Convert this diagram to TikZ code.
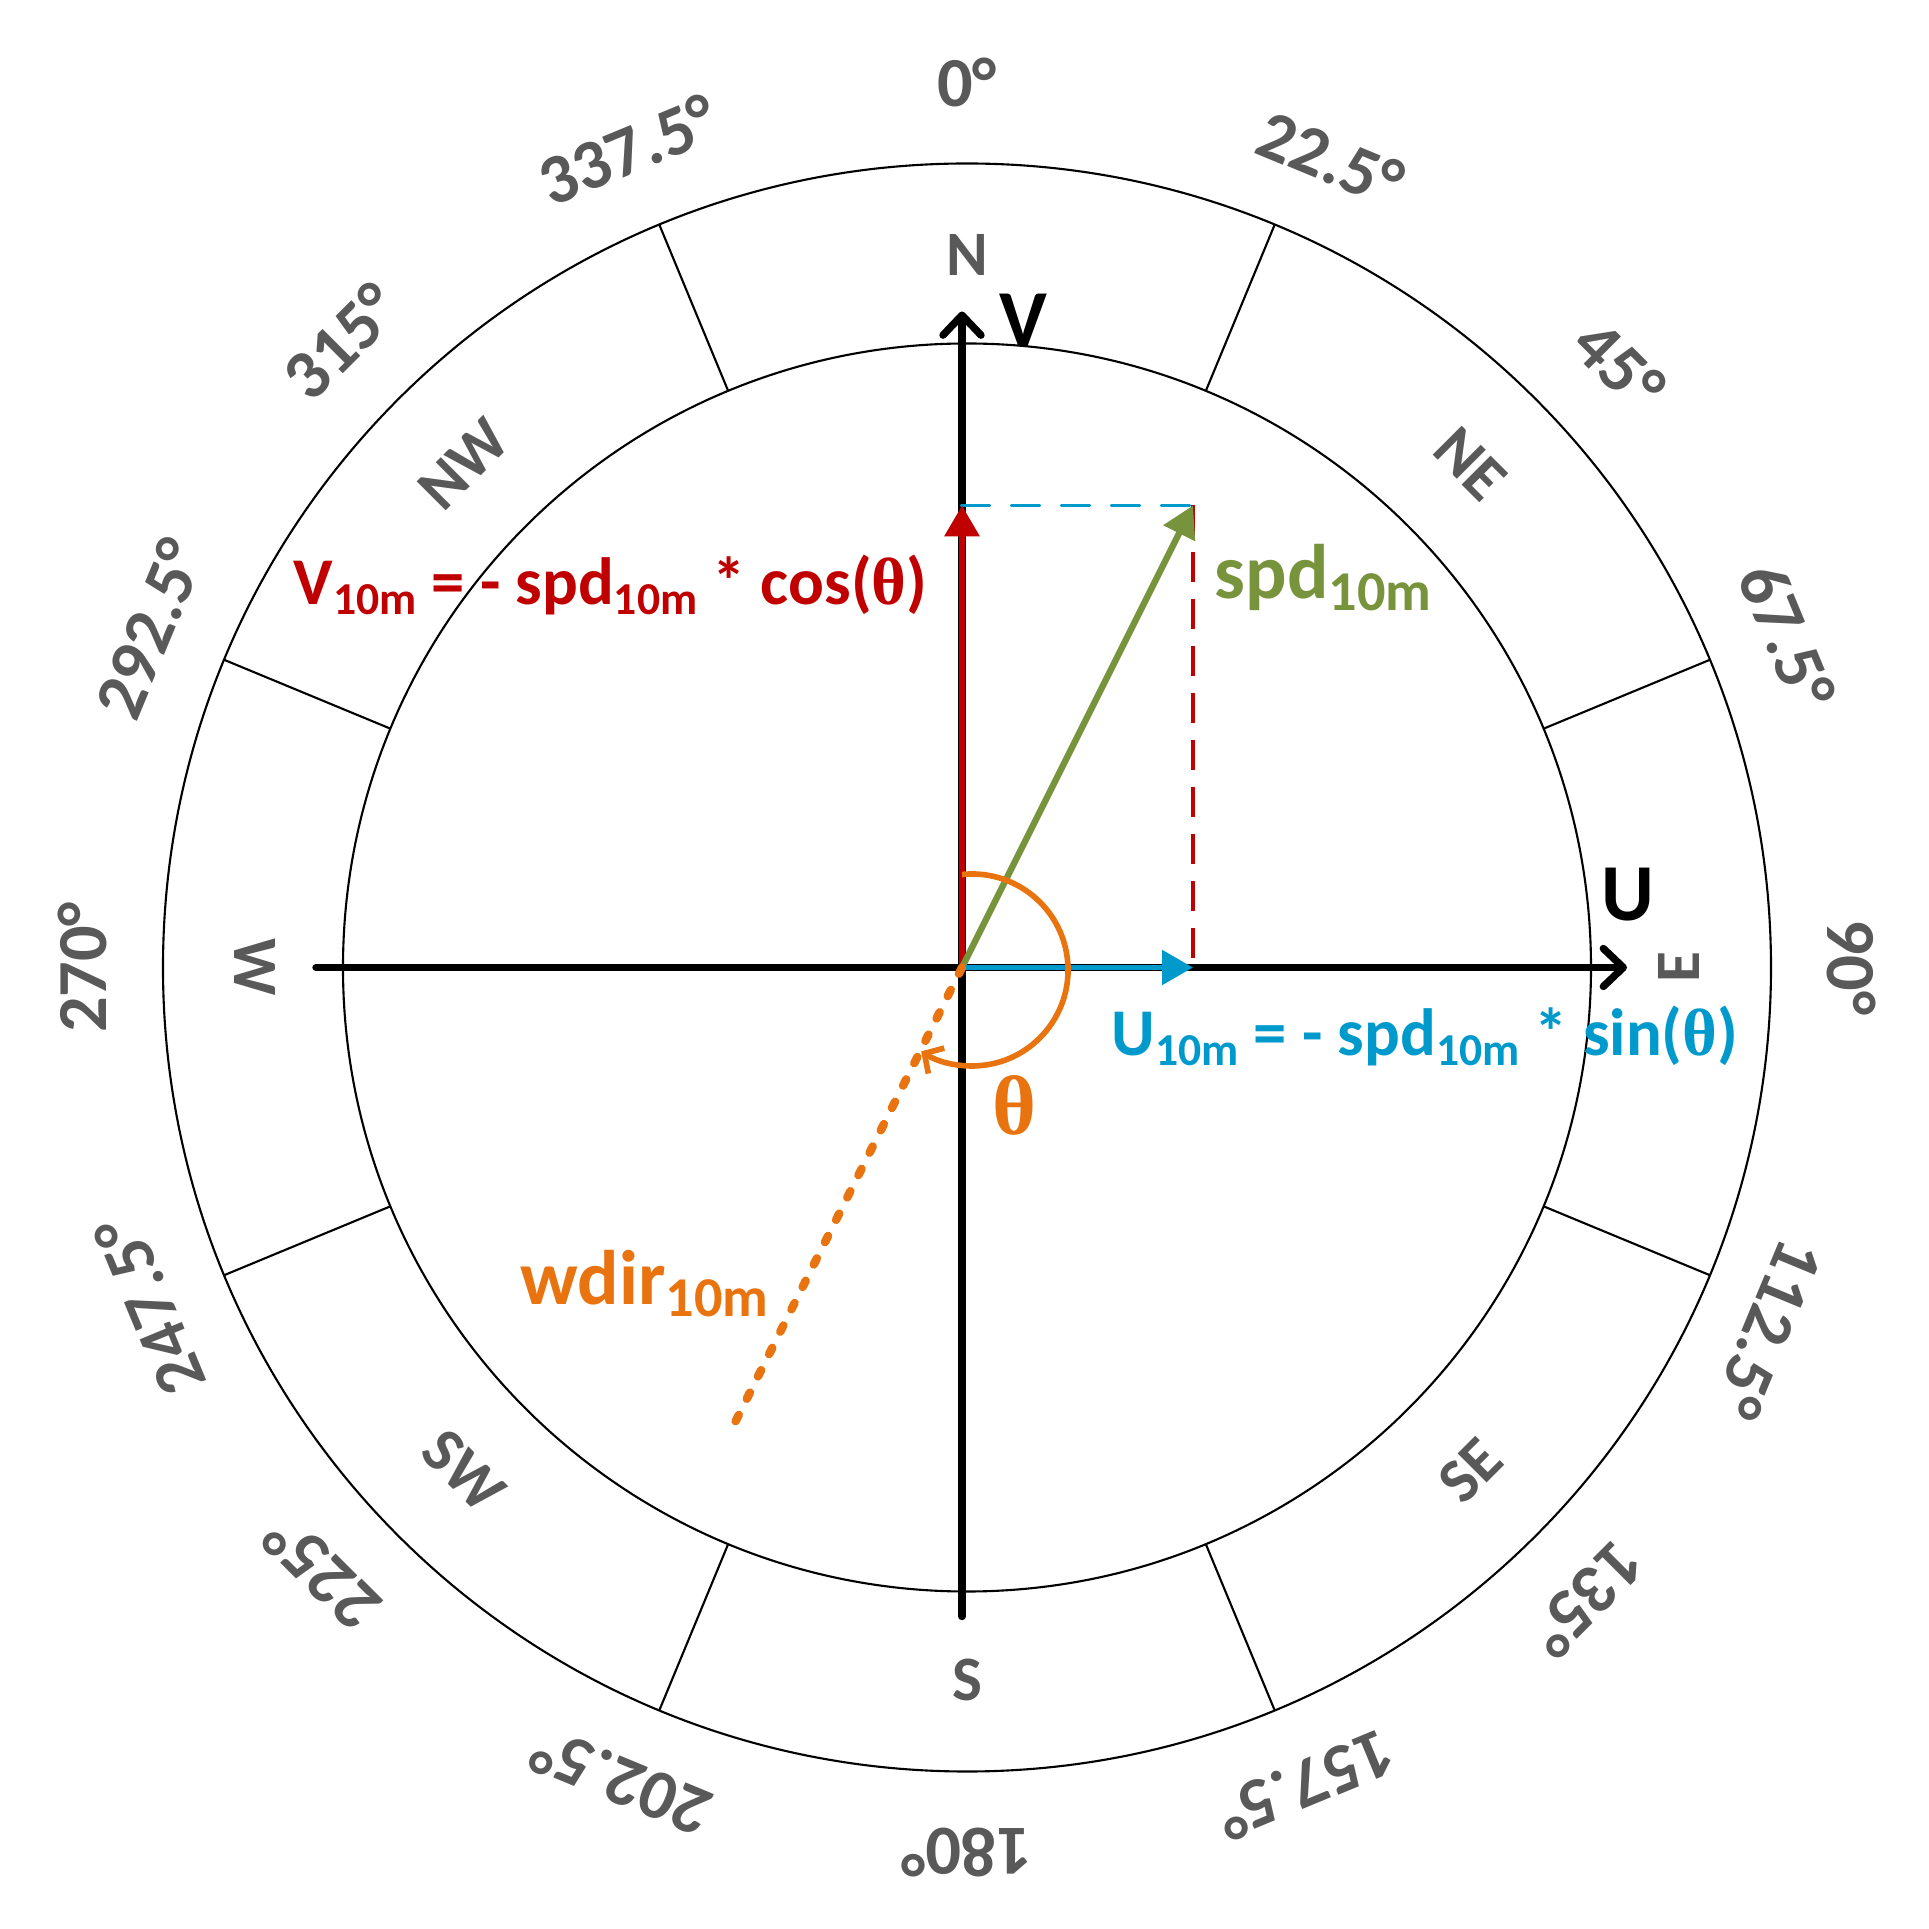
\documentclass[tikz,border=0pt]{standalone}
\usepackage{fontspec}
\setmainfont{Carlito}
\newfontfamily\serifgreek{Liberation Serif}
\usetikzlibrary{arrows.meta}
\definecolor{labgray}{HTML}{595959}
\definecolor{windred}{HTML}{C00000}
\definecolor{windblue}{HTML}{0099CC}
\definecolor{windgreen}{HTML}{77933C}
\definecolor{windorange}{HTML}{E8730F}
\newcommand{\subten}{\raisebox{-0.1cm}{\fontsize{13}{13}\selectfont 10m}}
\newcommand{\subbig}{\raisebox{-0.12cm}{\fontsize{16}{16}\selectfont 10m}}
\newcommand{\thet}{{\serifgreek θ}}

\begin{document}
\begin{tikzpicture}[every node/.style={inner sep=0pt},
  deg/.style={text=labgray, font=\fontsize{20}{24}\selectfont\bfseries},
  dir/.style={text=labgray, font=\fontsize{18}{22}\selectfont\bfseries},
  ring/.style={line width=0.6pt},
  axis/.style={line width=2.1pt, line cap=round, -{Straight Barb[length=2mm,width=3.8mm,round]}},
  comp/.style={-{Triangle[length=3.1mm,width=3.4mm]}},
  formula/.style={font=\fontsize{19}{22}\selectfont\bfseries, anchor=base west},
  varlabel/.style={font=\fontsize{22}{26}\selectfont\bfseries, anchor=base west}]
\useasboundingbox (-9.67,-9.615) rectangle (9.62,9.675);
\draw[ring] (0,0) circle[radius=8.04];
\draw[ring] (0,0) circle[radius=6.24];
\draw[ring] (67.5:6.24) -- (67.5:8.04);
\draw[ring] (22.5:6.24) -- (22.5:8.04);
\draw[ring] (-22.5:6.24) -- (-22.5:8.04);
\draw[ring] (-67.5:6.24) -- (-67.5:8.04);
\draw[ring] (-112.5:6.24) -- (-112.5:8.04);
\draw[ring] (-157.5:6.24) -- (-157.5:8.04);
\draw[ring] (157.5:6.24) -- (157.5:8.04);
\draw[ring] (112.5:6.24) -- (112.5:8.04);

\node[deg] (d0) at (90:8.85) {0°};
\node[deg, rotate=-22.5] (d22) at (65.8:8.87) {22.5°};
\node[deg, rotate=-45] (d45) at (42.7:8.88) {45°};
\node[deg, rotate=-67.5] (d67) at (22:8.85) {67.5°};
\node[deg, rotate=-90] (d90) at (0:8.85) {90°};
\node[deg, rotate=-112.5] (d112) at (-24.3:8.8) {112.5°};
\node[deg, rotate=-135] (d135) at (-45.5:8.85) {135°};
\node[deg, rotate=-157.5] (d157) at (-67.5:8.85) {157.5°};
\node[deg, rotate=-180] (d180) at (-90:8.85) {180°};
\node[deg, rotate=-202.5] (d202) at (-113:8.85) {202.5°};
\node[deg, rotate=-225] (d225) at (-136.8:8.85) {225°};
\node[deg, rotate=-247.5] (d247) at (-157.5:8.85) {247.5°};
\node[deg, rotate=-270] (d270) at (180:8.85) {270°};
\node[deg, rotate=-292.5] (d292) at (157.5:8.85) {292.5°};
\node[deg, rotate=-315] (d315) at (135:8.85) {315°};
\node[deg, rotate=-337.5] (d337) at (112.5:8.85) {337.5°};

\node[dir] (n) at (90:7.12) {N};
\node[dir, rotate=-45] (ne) at (45:7.12) {NE};
\node[dir, rotate=90] (e) at (0:7.12) {E};
\node[dir, rotate=45] (se) at (-45:7.12) {SE};
\node[dir] (s) at (-90:7.12) {S};
\node[dir, rotate=-45] (sw) at (-135:7.12) {SW};
\node[dir, rotate=-90] (w) at (180:7.12) {W};
\node[dir, rotate=45] (nw) at (135:7.12) {NW};

\coordinate (O) at (-0.05,0);
\coordinate (xl) at (-6.51,0);
\coordinate (xr) at (6.60,0);
\coordinate (yb) at (-0.05,-6.49);
\coordinate (yt) at (-0.05,6.56);
\coordinate (vtip) at (-0.05,4.62);
\coordinate (utip) at (2.26,0);
\coordinate (ptip) at (2.26,4.62);
\coordinate (wend) at (-2.375,-4.66);

\draw[axis] (xl) -- (xr);
\draw[axis] (yb) -- (yt);
\draw[windblue, line width=1.1pt, line cap=round, dash pattern=on 0.27cm off 0.23cm] (vtip) -- (ptip);
\draw[windred, line width=1pt, dash pattern=on 0.3cm off 0.17cm] (ptip) -- (utip);
\draw[windred, line width=1.9pt, comp] (O) -- (vtip);
\draw[windgreen, line width=1.8pt, comp] (O) -- (ptip);
\draw[windblue, line width=1.6pt, comp] (O) -- (utip);
\draw[windorange, line width=2.4pt, line cap=round, dash pattern=on 0.07cm off 0.18cm] (O) -- (wend);
\draw[windorange, line width=1.6pt, -{Straight Barb[length=1.4mm,width=3mm]}] (O) ++(0,0.93) arc[start angle=96, end angle=-122, radius=0.96];

\node[font=\fontsize{23}{26}\selectfont\bfseries] (vaxis) at (0.56,6.475) {V};
\node[font=\fontsize{23}{26}\selectfont\bfseries] (uaxis) at (6.61,0.725) {U};
\node[formula, text=windred] (vform) at (-6.74,3.63) {V\subten{} = - spd\subten{} * cos(\thet)};
\node[formula, text=windblue] (uform) at (1.44,-0.88) {U\subten{} = - spd\subten{} * sin(\thet)};
\node[varlabel, text=windgreen] (spd) at (2.47,3.685) {spd\subbig};
\node[varlabel, text=windorange] (wdir) at (-4.47,-3.375) {wdir\subbig};
\node[font=\fontsize{24}{28}\selectfont\bfseries\serifgreek, text=windorange] (theta) at (0.48,-1.375) {θ};
\end{tikzpicture}
\end{document}
